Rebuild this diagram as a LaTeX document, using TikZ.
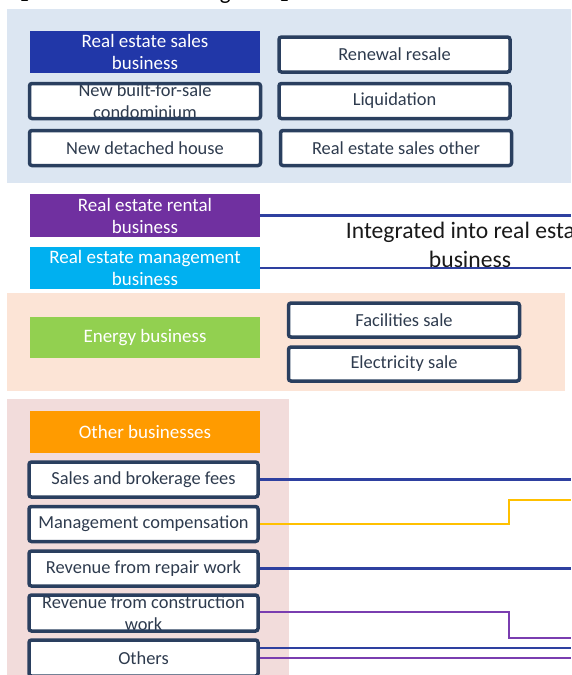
\documentclass[tikz,border=0pt]{standalone}
\usepackage{fontspec}
\setmainfont{Carlito}
\newfontfamily\cjk{Noto Sans CJK JP}
\usetikzlibrary{calc}

\definecolor{bandblue}{HTML}{DCE6F2}
\definecolor{bandpeach}{HTML}{FCE4D6}
\definecolor{bandpink}{HTML}{F2DCDB}
\definecolor{navy}{HTML}{2A3F5F}
\definecolor{boxtxt}{HTML}{2E3B4E}
\definecolor{salesblue}{HTML}{2137A8}
\definecolor{rentpurple}{HTML}{7030A0}
\definecolor{mgmtcyan}{HTML}{00B0F0}
\definecolor{energygreen}{HTML}{92D050}
\definecolor{otherorange}{HTML}{FF9B00}
\definecolor{lineblue}{HTML}{2E40A0}
\definecolor{lineyellow}{HTML}{FFC000}
\definecolor{linepurple}{HTML}{7A3DB0}

\tikzset{
  headtxt/.style={font=\fontsize{19}{22}\selectfont, align=center},
  txt/.style={font=\fontsize{18.4}{22}\selectfont, align=center},
  headbox/.style={headtxt, text=white, inner sep=0pt, minimum width=230pt, minimum height=42pt},
  itembox/.style={draw=navy, line width=3.5pt, rounded corners=2.5pt, fill=white,
    inner sep=0pt, minimum width=231pt, minimum height=35pt, text=boxtxt, txt},
  cliptext/.style={itembox, path picture={
      \node[txt, text=boxtxt] at (path picture bounding box.center) {#1};}},
  link/.style={line width=2.2pt},
}

\begin{document}
\begin{tikzpicture}[x=1pt, y=-1pt]
\useasboundingbox (0,0) rectangle (571,675);

% heading, only its lowest strokes fall inside the page
\begin{scope}
  \clip (0,0) rectangle (571,675);
  \node[anchor=base west, inner sep=0pt, font=\fontsize{23}{23}\selectfont] (title) at (6,-0.5)
    {{\cjk 【}Previous business segment{\cjk 】}};
\end{scope}

% background bands
\fill[bandblue]  (7,9)   rectangle (571,183);
\fill[bandpeach] (7,293) rectangle (565,391);
\fill[bandpink]  (7,399) rectangle (289,675);

% real estate sales
\node[headbox, fill=salesblue] (rsb) at (145,52) {Real estate sales\\business};
\node[itembox] (renew) at (394.5,54.5) {Renewal resale};
\node[cliptext={New built-for-sale\\condominium}] (newbuilt) at (145,101) {};
\node[itembox] (liquid) at (394.5,101) {Liquidation};
\node[itembox] (detached) at (145,148) {New detached house};
\node[itembox] (rsother) at (396,148) {Real estate sales other};

% rental and management
\node[headbox, fill=rentpurple, minimum height=43pt] (rental) at (145,215.5) {Real estate rental\\business};
\node[headbox, fill=mgmtcyan] (mgmt) at (145,268) {Real estate management\\business};
\begin{scope}
  \clip (0,0) rectangle (571,675);
  \node[font=\fontsize{23.6}{29}\selectfont, align=center, text=black!90] (integ) at (470,245)
    {Integrated into real estate\\business};
\end{scope}

% energy
\node[headbox, fill=energygreen, minimum height=41pt] (energy) at (145,337.5) {Energy business};
\node[itembox, minimum height=34pt] (facil) at (404,320) {Facilities sale};
\node[itembox, minimum height=34pt] (elec) at (404,364) {Electricity sale};

% other businesses
\node[headbox, fill=otherorange] (otherb) at (145,432) {Other businesses};
\node[itembox, minimum width=229pt] (sales) at (143.5,479.5) {Sales and brokerage fees};
\node[itembox, minimum width=229pt] (mcomp) at (143.5,524) {Management compensation};
\node[itembox, minimum width=229pt] (repair) at (143.5,568.5) {Revenue from repair work};
\node[cliptext={Revenue from construction\\work}, minimum width=229pt, minimum height=36pt] (constr) at (143.5,613) {};
\node[itembox, minimum width=229pt, minimum height=36pt] (others) at (143.5,658) {Others};

% loose ends at the right edge
\coordinate (edge) at (571,0);
\coordinate (step) at (509,0);
\coordinate (mcompEnd) at (571,500);
\coordinate (constrEnd) at (571,638);

% connectors
\draw[link, lineblue] (rental.east) -- (rental.east -| edge);
\draw[link, lineblue] (mgmt.east) -- (mgmt.east -| edge);
\draw[link, lineblue] (sales.east) -- (sales.east -| edge);
\draw[link, lineyellow] (mcomp.east) -- (mcomp.east -| step) |- (mcompEnd);
\draw[link, lineblue] (repair.east) -- (repair.east -| edge);
\draw[link, linepurple] ([yshift=1pt]constr.east) -- ([yshift=1pt]constr.east -| step) |- (constrEnd);
\draw[link, lineblue] ([yshift=10pt]others.east) -- ([yshift=10pt]others.east -| edge);
\draw[link, linepurple] (others.east) -- (others.east -| edge);
\end{tikzpicture}
\end{document}
